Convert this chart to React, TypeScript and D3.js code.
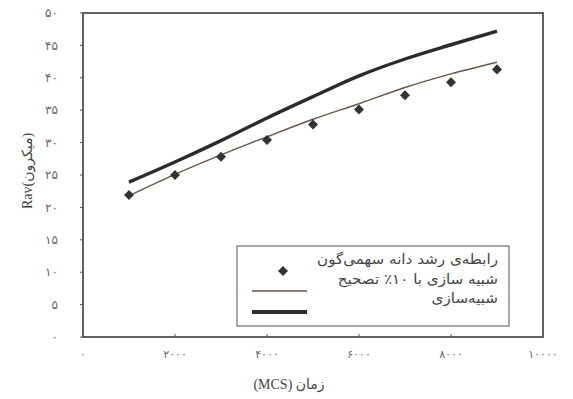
import { useEffect, useRef } from "react";
import * as d3 from "d3";

// chart data
const times = [1000, 2000, 3000, 4000, 5000, 6000, 7000, 8000, 9000];
const parabolicGrowth = [21.9, 25.0, 27.8, 30.4, 32.8, 35.1, 37.3, 39.3, 41.3];
const simulationCorrected = [21.8, 25.1, 28.1, 30.9, 33.6, 36.0, 38.5, 40.6, 42.4];
const simulation = [23.9, 27.0, 30.3, 33.8, 37.1, 40.3, 42.9, 45.1, 47.2];

const yTicks = [0, 5, 10, 15, 20, 25, 30, 35, 40, 45, 50];
const yTickLabels = ["۰", "۵", "۱۰", "۱۵", "۲۰", "۲۵", "۳۰", "۳۵", "۴۰", "۴۵", "۵۰"];
const xTicks = [0, 2000, 4000, 6000, 8000, 10000];
const xTickLabels = ["۰", "۲۰۰۰", "۴۰۰۰", "۶۰۰۰", "۸۰۰۰", "۱۰۰۰۰"];

const legendLabels = [
  "رابطه‌ی رشد دانه سهمی‌گون",
  "شبیه سازی با ۱۰٪ تصحیح",
  "شبیه‌سازی",
];

const width = 573;
const height = 399;
const plot = { left: 83, right: 543, top: 13, bottom: 337 };

const font = "'Liberation Serif', 'DejaVu Sans', serif";
const arabicFont = "'DejaVu Sans', sans-serif";

// legend box and rows (text sits a little above its marker in the scan)
const lg = { x: 237, y: 246, w: 272, h: 80, textRight: 498, textWidth: 181 };
const legendTextY = [259, 279, 298];
const legendMarkY = [271, 291, 312];

export default function App() {
  const legendRef = useRef<SVGGElement>(null);

  const x = d3.scaleLinear().domain([0, 10000]).range([plot.left, plot.right]);
  const y = d3.scaleLinear().domain([0, 50]).range([plot.bottom, plot.top]);

  const line = d3
    .line<number>()
    .x((_, i) => x(times[i]))
    .y((d) => y(d))
    .curve(d3.curveMonotoneX);

  const diamond = d3.symbol().type(d3.symbolDiamond2).size(64)();

  // the scan's Persian font is much wider than DejaVu: stretch labels to match
  useEffect(() => {
    if (!legendRef.current) return;
    const texts = d3.select(legendRef.current).selectAll<SVGTextElement, unknown>("text");
    const widest = d3.max(texts.nodes(), (n) => n.getComputedTextLength()) ?? 1;
    const s = lg.textWidth / widest;
    texts.attr("transform", (_, i) => `translate(${lg.textRight},${legendTextY[i]}) scale(${s},1)`);
  }, []);

  return (
    <svg
      width={width}
      height={height}
      style={{ position: "absolute", left: 0, top: 0, background: "#fff" }}
    >
      {/* plot frame */}
      <rect
        x={plot.left}
        y={plot.top}
        width={plot.right - plot.left}
        height={plot.bottom - plot.top}
        fill="none"
        stroke="#3c3c3c"
        strokeWidth={1.6}
      />

      {/* y axis */}
      {yTicks.map((t, i) => (
        <g key={t}>
          <line x1={plot.left - 3} x2={plot.left} y1={y(t)} y2={y(t)} stroke="#555" />
          <text
            x={58}
            y={y(t)}
            dy="0.35em"
            textAnchor="end"
            fontSize={12}
            fill="#666"
            fontFamily={arabicFont}
          >
            {yTickLabels[i]}
          </text>
        </g>
      ))}

      {/* x axis */}
      {xTicks.map((t, i) => (
        <g key={t}>
          <line x1={x(t)} x2={x(t)} y1={plot.bottom} y2={plot.bottom - 3} stroke="#555" />
          <text
            x={x(t)}
            y={358}
            textAnchor="middle"
            fontSize={11}
            fill="#666"
            fontFamily={arabicFont}
          >
            {xTickLabels[i]}
          </text>
        </g>
      ))}

      {/* axis titles */}
      <text
        transform="translate(32,171) rotate(-90)"
        textAnchor="middle"
        fontSize={14}
        fill="#444"
        fontFamily={font}
      >
        Rav(میکرون)
      </text>
      <text x={289} y={389} textAnchor="middle" fontSize={14} fill="#444" fontFamily={font}>
        (MCS) زمان
      </text>

      {/* series */}
      <path d={line(simulation) ?? ""} fill="none" stroke="#2b2b2b" strokeWidth={3.4} />
      <path d={line(simulationCorrected) ?? ""} fill="none" stroke="#6b5548" strokeWidth={1.4} />
      {parabolicGrowth.map((v, i) => (
        <path
          key={i}
          d={diamond ?? ""}
          transform={`translate(${x(times[i])},${y(v)})`}
          fill="#333"
        />
      ))}

      {/* legend */}
      <rect x={lg.x} y={lg.y} width={lg.w} height={lg.h} fill="#fff" stroke="#555" strokeWidth={1} />
      <path d={diamond ?? ""} transform={`translate(283,${legendMarkY[0]})`} fill="#333" />
      <line x1={252} x2={307} y1={legendMarkY[1]} y2={legendMarkY[1]} stroke="#6b5548" strokeWidth={1.4} />
      <line x1={252} x2={307} y1={legendMarkY[2]} y2={legendMarkY[2]} stroke="#2b2b2b" strokeWidth={3.8} />
      <g ref={legendRef}>
        {legendLabels.map((label, i) => (
          <text
            key={label}
            transform={`translate(${lg.textRight},${legendTextY[i]})`}
            dy="0.35em"
            textAnchor="end"
            fontSize={14}
            fill="#444"
            fontFamily={arabicFont}
          >
            {label}
          </text>
        ))}
      </g>
    </svg>
  );
}
